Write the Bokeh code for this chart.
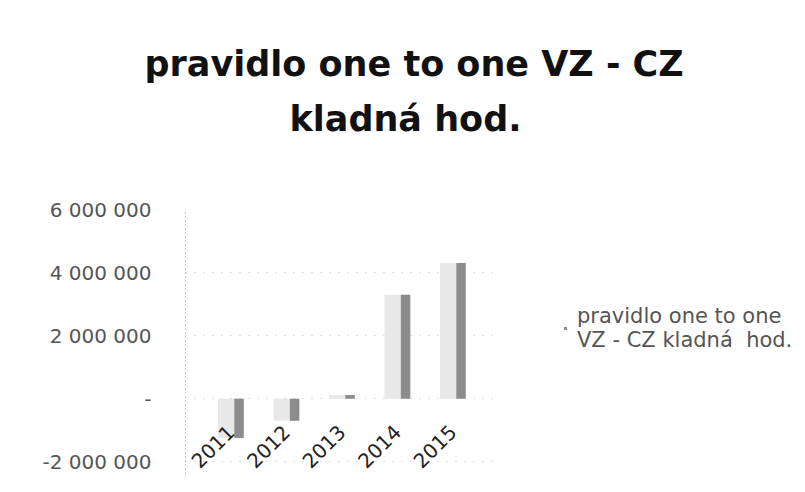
from bokeh.plotting import figure
from bokeh.models import (FactorRange, Range1d, FixedTicker, Title, Legend, LegendItem,
                          CategoricalAxis, ColumnDataSource)
from bokeh.transform import dodge
from bokeh.embed import file_html
from bokeh.resources import INLINE
from math import pi

years = ["2011", "2012", "2013", "2014", "2015"]
values = [-1250000, -700000, 120000, 3300000, 4300000]
y_ticks = [-2000000, 0, 2000000, 4000000, 6000000]
y_tick_labels = ["-2 000 000", "-", "2 000 000", "4 000 000", "6 000 000"]
series_name = "pravidlo one to one\nVZ - CZ kladná  hod."
title_line1 = "pravidlo one to one VZ - CZ"
title_line2 = "kladná  hod."

FONT = "DejaVu Sans"

src = ColumnDataSource(data=dict(year=years, value=values))

x_range = FactorRange(factors=years, range_padding=0.32, range_padding_units="absolute")
p = figure(x_range=x_range,
           y_range=Range1d(-2500000, 6000000),
           frame_width=313, frame_height=268,
           min_border_left=185, min_border_right=10, min_border_bottom=0, min_border_top=0,
           title=None, toolbar_location=None, output_backend="svg",
           x_axis_location=None)
p.outline_line_color = None
p.background_fill_color = "white"
p.border_fill_color = "white"

# 3D-like column: pale side face + darker front strip
p.vbar(x="year", top="value", width=0.47, source=src, fill_color="#e8e8e8", line_color=None)
r = p.vbar(x=dodge("year", 0.145, range=x_range), top="value", width=0.17, source=src,
           fill_color="#8c8c8c", line_color=None)

# titles (added nearest-to-frame first)
spacer_bottom = Title(text=" ", text_font_size="1px", standoff=60, vertical_align="middle")
t2 = Title(text=title_line2, align="left", offset=104, text_font=FONT, text_font_size="35px",
           text_font_style="bold", text_color="#111111", standoff=13, vertical_align="middle")
t1 = Title(text=title_line1, align="left", offset=-41, text_font=FONT, text_font_size="35px",
           text_font_style="bold", text_color="#111111", standoff=13, vertical_align="middle")
spacer_top = Title(text=" ", text_font_size="1px", standoff=33, vertical_align="middle")
p.add_layout(spacer_bottom, "above")
p.add_layout(t2, "above")
p.add_layout(t1, "above")
p.add_layout(spacer_top, "above")

# y axis
yax = p.yaxis[0]
yax.ticker = FixedTicker(ticks=y_ticks)
yax.major_label_overrides = {t: l for t, l in zip(y_ticks, y_tick_labels)}
yax.major_tick_line_color = None
yax.major_tick_out = 0
yax.major_tick_in = 0
yax.minor_tick_line_color = None
yax.axis_line_color = "#999999"
yax.axis_line_dash = "1 3"
yax.major_label_standoff = 34
yax.major_label_text_font = FONT
yax.major_label_text_font_size = "20px"
yax.major_label_text_color = "#555555"

# category axis crossing at zero
cax = CategoricalAxis(fixed_location=0)
cax.axis_line_color = None
cax.major_tick_line_color = None
cax.minor_tick_line_color = None
cax.major_label_orientation = pi / 4
cax.major_label_standoff = 24
cax.major_label_text_font = FONT
cax.major_label_text_font_size = "20px"
cax.major_label_text_color = "#222222"
p.add_layout(cax, "below")

p.xgrid.grid_line_color = None
p.ygrid.grid_line_color = "#bbbbbb"
p.ygrid.grid_line_dash = "1 8"
p.ygrid.ticker = FixedTicker(ticks=y_ticks)

legend = Legend(items=[LegendItem(label=series_name, renderers=[r])],
                location=(65, 125), glyph_width=4, glyph_height=4,
                label_text_font=FONT, label_text_font_size="21px",
                label_text_line_height=1.3,
                label_text_color="#555555", border_line_color=None,
                background_fill_alpha=0, label_standoff=10, margin=0, padding=0)
p.add_layout(legend, "right")

open("out.html", "w").write(file_html(p, INLINE))
